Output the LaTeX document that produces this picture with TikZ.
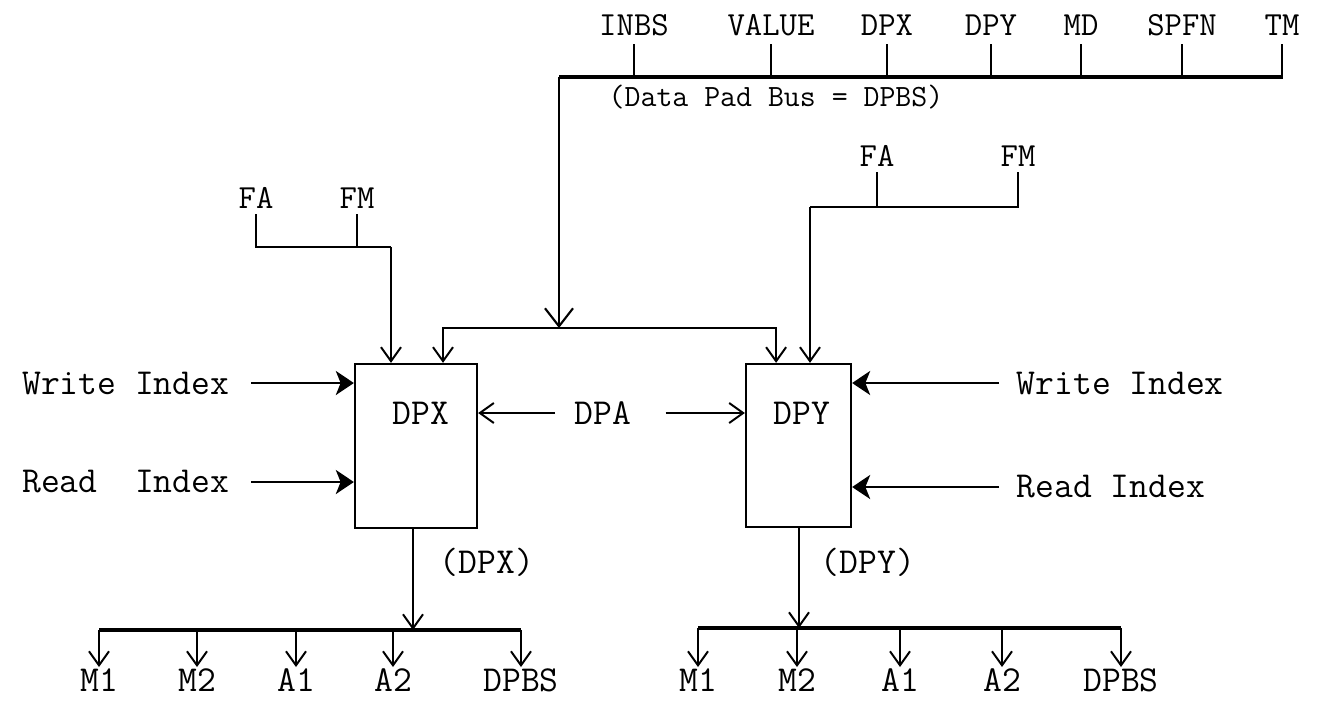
\documentclass[tikz,border=0pt]{standalone}
\usepackage{tikz}
\usetikzlibrary{arrows.meta}
\tikzset{
  box-node/.style={draw, line width=1.6pt, inner sep=0pt},
  sig-label/.style={font=\ttfamily\fontsize{26}{28}\selectfont, inner sep=1pt},
  top-label/.style={font=\ttfamily\fontsize{24}{26}\selectfont, inner sep=1pt},
  bus-caption/.style={font=\ttfamily\fontsize{22}{24}\selectfont, inner sep=1pt},
  bus-line/.style={line width=2.4pt},
  tick-line/.style={line width=1.5pt},
  open-arrow/.style={-{Straight Barb[length=3.5mm, width=5mm]}, line width=1.4pt},
  big-arrow/.style={-{Straight Barb[length=4.5mm, width=7mm]}, line width=1.5pt},
  index-arrow/.style={-{Stealth[length=4.5mm, width=6mm, inset=1.2mm]}, line width=1.9pt}
}
\begin{document}
\begin{tikzpicture}[x=0.025cm, y=-0.025cm]
\path[fill=white] (0,0) rectangle (1322,700);

\coordinate (busL) at (559,77);
\coordinate (busR) at (1283,77);
\draw[bus-line] (busL) -- (busR);
\foreach \nm/\txt/\x in {inbs/INBS/634, value/VALUE/771, dpxb/DPX/887, dpyb/DPY/991,
                         md/MD/1081, spfn/SPFN/1182, tm/TM/1282} {
  \node[top-label] (\nm) at (\x,25) {\txt};
  \draw[tick-line] ([yshift=-5pt]\nm.south) -- (\nm.south |- busL);
}
\node[bus-caption] (dpbsname) at (776,97) {(Data Pad Bus = DPBS)};

\node[box-node, minimum width=3.05cm, minimum height=4.1cm] (dpx) at (416,446) {};
\node[box-node, minimum width=2.625cm, minimum height=4.075cm] (dpy) at (798.5,445.5) {};
\node[sig-label] (dpxname) at (421,413) {DPX};
\node[sig-label] (dpyname) at (802,413) {DPY};

\coordinate (padjoin) at (559,328);
\draw[big-arrow] (busL) -- (padjoin);
\draw[open-arrow] (padjoin) -| ([xshift=0.675cm]dpx.north);
\draw[open-arrow] (padjoin) -| ([xshift=-0.56cm]dpy.north);

\node[top-label] (fal) at (256,198) {FA};
\node[top-label] (fml) at (357,198) {FM};
\coordinate (fjoinl) at (391,247);
\draw[tick-line] ([yshift=-3pt]fal.south) |- (fjoinl);
\draw[tick-line] ([yshift=-3pt]fml.south) -- (fml.south |- fjoinl);
\draw[open-arrow] (fjoinl) -- (fjoinl |- dpx.north);

\node[top-label] (far) at (877,156) {FA};
\node[top-label] (fmr) at (1018,156) {FM};
\coordinate (fjoinr) at (810,207);
\draw[tick-line] ([yshift=-3pt]fmr.south) |- (fjoinr);
\draw[tick-line] ([yshift=-3pt]far.south) -- (far.south |- fjoinr);
\draw[open-arrow] (fjoinr) -- (fjoinr |- dpy.north);

\node[sig-label] (dpa) at (603,413) {DPA};
\draw[open-arrow] ([xshift=-0.45cm]dpa.west) -- (dpa.west -| dpx.east);
\draw[open-arrow] ([xshift=0.82cm]dpa.east) -- (dpa.east -| dpy.west);

\node[sig-label, anchor=east] (wixl) at (231,383) {Write Index};
\node[sig-label, anchor=east] (rixl) at (231,482) {Read\ \ Index};
\draw[index-arrow] ([xshift=0.5cm]wixl.east) -- (wixl.east -| dpx.west);
\draw[index-arrow] ([xshift=0.5cm]rixl.east) -- (rixl.east -| dpx.west);

\node[sig-label, anchor=west] (wixr) at (1015,383) {Write Index};
\node[sig-label, anchor=west] (rixr) at (1015,487) {Read Index};
\draw[index-arrow] ([xshift=-0.4cm]wixr.west) -- (wixr.west -| dpy.east);
\draw[index-arrow] ([xshift=-0.4cm]rixr.west) -- (rixr.west -| dpy.east);

\coordinate (xbus) at (413,630);
\node[sig-label] (dpxout) at (487,562) {(DPX)};
\draw[open-arrow] (xbus |- dpx.south) -- (xbus);
\foreach \nm/\txt/\x in {m1x/M1/99, m2x/M2/197, a1x/A1/296, a2x/A2/393, dpbsx/DPBS/521} {
  \node[sig-label, anchor=north] (\nm) at (\x,667) {\txt};
  \draw[open-arrow] (\nm.north |- xbus) -- (\nm.north);
}
\draw[bus-line] (m1x.north |- xbus) -- (dpbsx.north |- xbus);

\coordinate (ybus) at (799,628);
\node[sig-label] (dpyout) at (868,562) {(DPY)};
\draw[open-arrow] (ybus |- dpy.south) -- (ybus);
\foreach \nm/\txt/\x in {m1y/M1/698, m2y/M2/797, a1y/A1/900, a2y/A2/1002, dpbsy/DPBS/1121} {
  \node[sig-label, anchor=north] (\nm) at (\x,667) {\txt};
  \draw[open-arrow] (\nm.north |- ybus) -- (\nm.north);
}
\draw[bus-line] (m1y.north |- ybus) -- (dpbsy.north |- ybus);
\end{tikzpicture}
\end{document}
